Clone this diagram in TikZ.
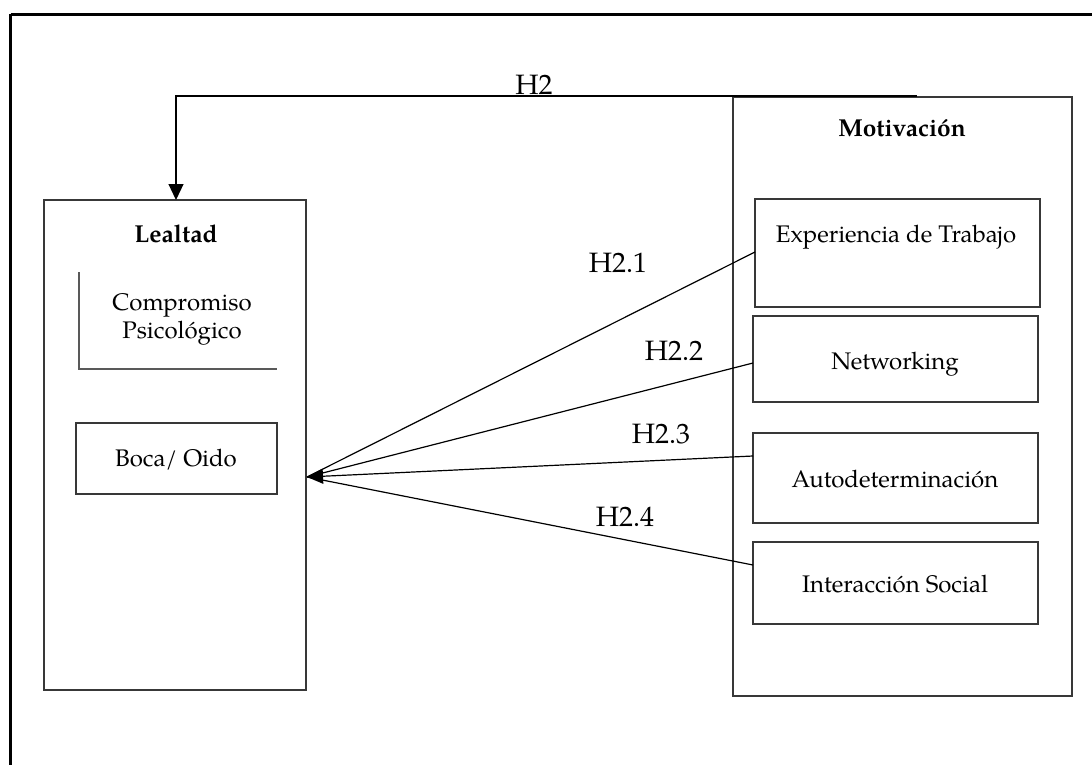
\documentclass[tikz,border=0pt]{standalone}
\usepackage{fontspec}
\setmainfont{TeX Gyre Pagella}
\usetikzlibrary{arrows.meta,fit}

\begin{document}
\begin{tikzpicture}[x=1pt,y=-1pt,
  frameline/.style={line width=2.4pt,black},
  box/.style={draw=black!78,line width=1.5pt,rectangle,inner sep=0pt,outer sep=0pt},
  halfbox/.style={draw=black!65,line width=1.2pt},
  link/.style={line width=1.2pt,black},
  tipped/.style={-{Triangle[length=16pt,width=15pt]}},
  body/.style={font=\fontsize{24}{28}\selectfont,inner sep=0pt,anchor=base},
  title/.style={font=\fontsize{24.5}{28}\selectfont\bfseries,inner sep=0pt,anchor=base},
  hlabel/.style={font=\fontsize{28}{32}\selectfont,inner sep=0pt,anchor=base}
]
\useasboundingbox (0,0) rectangle (1092,765);

% open frame: only the top and left edges
\draw[frameline] (10.5,14.5) -- (1092,14.5);
\draw[frameline] (10.5,14.5) -- (10.5,765);

% loyalty block
\node[box,fit={(44,200) (306,690)}] (lealtad) {};
\node[title] (lealtadT) at (176,242) {Lealtad};
\coordinate (compTop) at (79,272);
\coordinate (compCorner) at (79,369);
\coordinate (compEnd) at (277,369);
\draw[halfbox] (compTop) -- (compCorner) -- (compEnd);
\node[body] (comp1) at (182,310) {Compromiso};
\node[body] (comp2) at (182,338) {Psicológico};
\node[box,fit={(76,423) (277,494)}] (boca) {};
\node[body] (bocaT) at (176,466) {Boca/ Oido};

% motivation block
\node[box,fit={(733,97) (1072,696)}] (motiv) {};
\node[title] (motivT) at (902,137) {Motivación};
\node[box,fit={(755,199) (1040,307)}] (exp) {};
\node[body] (expT) at (896,242) {Experiencia de Trabajo};
\node[box,fit={(753,316) (1038,402)}] (net) {};
\node[body] (netT) at (895,369) {Networking};
\node[box,fit={(753,433) (1038,523)}] (auto) {};
\node[body] (autoT) at (895,487) {Autodeterminación};
\node[box,fit={(753,542) (1038,624)}] (inter) {};
\node[body] (interT) at (895,592) {Interacción Social};

% H2: overall path into Lealtad
\coordinate (h2start) at (917,96);
\coordinate (h2corner) at (176,96);
\draw[link,tipped] (h2start) -- (h2corner) -- (h2corner |- lealtad.north);
\node[hlabel] (h2) at (534,95) {H2};

% H2.x: each dimension into Boca/ Oido
\coordinate (tip) at (307,477);
\draw[link] ([yshift=-53pt]exp.north west) -- (tip);
\draw[link] ([yshift=-47pt]net.north west) -- (tip);
\draw[link,tipped] ([yshift=-23pt]auto.north west) -- (tip);
\draw[link] ([yshift=-23pt]inter.north west) -- (tip);
\node[hlabel] (h21) at (618,272) {H2.1};
\node[hlabel] (h22) at (674,360) {H2.2};
\node[hlabel] (h23) at (661,443) {H2.3};
\node[hlabel] (h24) at (625,526) {H2.4};
\end{tikzpicture}
\end{document}
